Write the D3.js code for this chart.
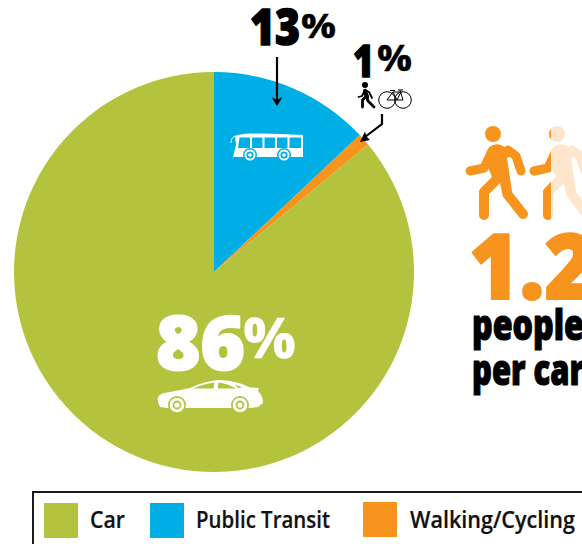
<!DOCTYPE html>
<html><head><meta charset="utf-8">
<script src="https://cdn.jsdelivr.net/npm/d3@7"></script>
<style>html,body{margin:0;padding:0;background:#fff;overflow:hidden}svg{display:block}text{font-family:"Open Sans",sans-serif}</style>
</head><body><svg id="c" width="582" height="544"></svg>
<script>
const categories=["Public Transit","Walking/Cycling","Car"];
const shares=[13,1,86];
const colours=["#00aee6","#f7941e","#b3c33d"];
const legendOrder=["Car","Public Transit","Walking/Cycling"];
const legendX=[44,150,363];
const legendTextX=[90,196,410];
const legendTextW=[35,134,165];
const occupancy="1.2";
const svg=d3.select("#c");
const cx=214,cy=272,R=200;
const colour=d3.scaleOrdinal(categories,colours);
const pie=d3.pie().sort(null).value(d=>d.v);
const arc=d3.arc().innerRadius(0).outerRadius(R);
const rows=categories.map((c,i)=>({c,v:shares[i]}));
svg.append("g").attr("transform",`translate(${cx},${cy})`).selectAll("path").data(pie(rows)).join("path")
 .attr("d",arc).attr("fill",d=>colour(d.data.c));

function t(str,x,y,size,len,fill,weight,sw){
 const e=svg.append("text").attr("x",x).attr("y",y).attr("font-size",size).attr("font-weight",weight||800).attr("fill",fill||"#000").text(str);
 if(len) e.attr("textLength",len).attr("lengthAdjust","spacingAndGlyphs");
 if(sw) e.attr("stroke",fill||"#000").attr("stroke-width",sw).attr("stroke-linejoin","round");
 return e;
}
// labels
t(shares[0],250,45,49,50,"#000",800,1.6);
t("%",301,38,34,35,"#000",700,.5);
t(shares[1],353,77,45,21,"#000",800,1.4);
t("%",377,71,35,35,"#000",700,.5);
t(shares[2],156,370,75,89,"#fff",800,2);
t("%",243,358,55,53,"#fff",700,.6);

// arrows
function arrow(pts){
 svg.append("path").attr("d",d3.line()(pts)).attr("fill","none").attr("stroke","#000").attr("stroke-width",2.2);
}
arrow([[277,57],[277,101]]);
svg.append("path").attr("d","M271.5 97 L277 100 L282.5 97 L277 106Z").attr("fill","#000");
arrow([[382,114],[382,124],[365,137]]);
svg.append("path").attr("d","M360 142 L370 140 L366.500 136.500 L365 131.500Z").attr("fill","#000");

// bus
const BLUE=colours[0];
const bus=svg.append("g").attr("fill","#fff");
bus.append("path").attr("fill-rule","evenodd").attr("d","M235 136 Q240 134 250 133.500 Q275 133 303 135 L303 157 L233 157 L236 145 Z M239.500 137.500 L238 148 L250 148 L250 137.500 Z M252 137.500 L252 148 L262.500 148 L262.500 137.500Z M264.500 137.500 L264.500 148 L275 148 L275 137.500Z M277 137.500 L277 148 L287.500 148 L287.500 137.500Z M289.500 137.500 L289.500 148 L301 148 L301 137.500Z");
bus.append("path").attr("fill","none").attr("stroke","#fff").attr("stroke-width",1).attr("d","M236 136 Q231 137 231 143");
[250,284].forEach(x=>{
 bus.append("circle").attr("cx",x).attr("cy",155).attr("r",7).attr("fill",BLUE);
 bus.append("circle").attr("cx",x).attr("cy",155).attr("r",5.5);
 bus.append("circle").attr("cx",x).attr("cy",155).attr("r",3.6).attr("fill",BLUE);
 bus.append("circle").attr("cx",x).attr("cy",155).attr("r",1.8);
});

// car
const GREEN=colours[2];
const car=svg.append("g");
car.append("path").attr("fill","#fff").attr("fill-rule","evenodd").attr("d","M158 397 Q160 393 170 392 L190 388 Q205 381 218 380 Q236 380 250 387.500 L259 388 L258 391 Q263 396 263 403 L258 407 L251 408 L231 408 L187 408 L167 408 L160 407 Q157 402 158 397Z M193 388.500 L213.500 388.500 L214.500 382.500 Q203 384 193 388.500Z M217.500 388.500 L236 388.500 Q229 384 218.500 382.500Z M238 388 L242 388 Q240 386 235 384.500Z");
[177,240].forEach(x=>{
 car.append("circle").attr("cx",x).attr("cy",405).attr("r",9).attr("fill",GREEN);
 car.append("circle").attr("cx",x).attr("cy",405).attr("r",7.3).attr("fill","#fff");
 car.append("circle").attr("cx",x).attr("cy",405).attr("r",4.4).attr("fill",GREEN);
 car.append("circle").attr("cx",x).attr("cy",405).attr("r",2.6).attr("fill","#fff");
});

// walker + bike icons
const w=svg.append("g").attr("fill","none").attr("stroke","#000").attr("stroke-linecap","round").attr("stroke-linejoin","round");
svg.append("circle").attr("cx",365).attr("cy",85).attr("r",3);
w.append("path").attr("stroke-width",2.8).attr("d","M362.500 107 V100 L366.500 96 L368 101 L374 107");
w.append("path").attr("stroke-width",4.2).attr("d","M365 91 L367 97");
w.append("path").attr("stroke-width",1.8).attr("d","M358.500 97 L362 96 L365 90 L369 92 L372 98");
const b=svg.append("g").attr("fill","none").attr("stroke","#000").attr("stroke-width",1);
b.append("circle").attr("cx",387).attr("cy",100).attr("r",8.3);
b.append("circle").attr("cx",403).attr("cy",100).attr("r",8.3);
b.append("path").attr("d","M387 100 L393 92 L401 92 M393 92 L397 100 L387 100 M397 100 L403 100 L400 90 M401 92 L397 100 M390 90.500 L395 90.500 M398 90 L403 90");

// people
svg.append("defs").append("clipPath").attr("id","orangeClip").append("rect").attr("x",440).attr("y",110).attr("width",111).attr("height",120);
function person(g,fill){
 g.append("circle").attr("cx",493).attr("cy",134).attr("r",8).attr("fill",fill);
 g.append("path").attr("fill",fill).attr("d","M489 147 Q497 142 503 146 L515 153 L507 158 L513 198 L503 197 L500 183 L492 177 L487 165 Z");
 const s=g.append("g").attr("fill","none").attr("stroke",fill).attr("stroke-linecap","round").attr("stroke-linejoin","round");
 s.append("path").attr("stroke-width",9).attr("d","M470 171 L484 168 L492 151");
 s.append("path").attr("stroke-width",9).attr("d","M508 150 L516 156 L521 171");
 s.append("path").attr("stroke-width",10).attr("d","M484 215 V192 L497 179");
 s.append("path").attr("stroke-width",10).attr("d","M508 195 L523 214");
}
person(svg.append("g"),"#f7941e");
person(svg.append("g").attr("transform","translate(64,0)"),"#fde6cc");
person(svg.append("g").attr("clip-path","url(#orangeClip)").append("g").attr("transform","translate(64,0)"),"#f7941e");

// big number
t(occupancy,469,299,90,126,"#f7941e",800,2);
t("people",472,340,43,112,"#000",800,1.2);
t("per car",472,385,43,112,"#000",800,1.2);

// legend
svg.append("rect").attr("x",33).attr("y",492).attr("width",600).attr("height",80).attr("fill","none").attr("stroke","#1a1a1a").attr("stroke-width",2);
legendOrder.forEach((name,i)=>{
 svg.append("rect").attr("x",legendX[i]).attr("y",i==2?502:503).attr("width",34).attr("height",35).attr("fill",colour(name));
 t(name,legendTextX[i],528,23,legendTextW[i],"#111",600,.2);
});
</script></body></html>
